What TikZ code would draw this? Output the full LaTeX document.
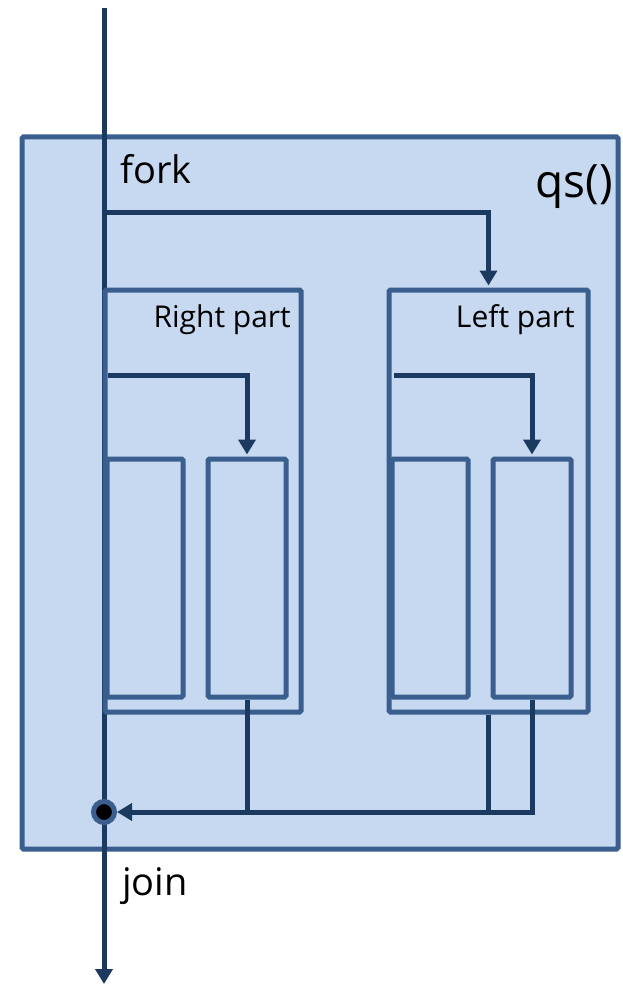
\documentclass[tikz,border=0pt]{standalone}
\usepackage{fontspec}
\setmainfont{Open Sans}
\usetikzlibrary{arrows.meta}
\definecolor{boxfill}{HTML}{C6D9F0}
\definecolor{boxline}{HTML}{3A5F8F}
\definecolor{flow}{HTML}{1C3960}
\begin{document}
\begin{tikzpicture}[x=1pt,y=-1pt,
  container/.style={draw=boxline,fill=boxfill,line width=5pt,rounded corners=1.5pt,inner sep=0pt,anchor=center},
  flowline/.style={draw=flow,line width=5pt},
  tip/.style={-{Triangle[width=17pt,length=15pt]}},
  lbl/.style={inner sep=0pt,text=black}]
\useasboundingbox (0,0) rectangle (623,984);
% outer function box
\node[container,minimum width=596pt,minimum height=712pt] (outer) at (320,493) {};
% main thread line
\coordinate (top) at (104,8);
\coordinate (bottom) at (104,984);
\coordinate (joinpt) at (104,812);
\coordinate (forkpt) at (104,213);
\draw[flowline] (top) -- (joinpt);
\draw[flowline,tip] (joinpt) -- (bottom);
% part boxes
\node[container,minimum width=196pt,minimum height=422pt] (right) at (203,501) {};
\node[container,minimum width=199pt,minimum height=422pt] (left) at (488.5,501) {};
% inner boxes
\node[container,minimum width=76pt,minimum height=238pt] (b1) at (145,578) {};
\node[container,minimum width=78pt,minimum height=238pt] (b2) at (247,578) {};
\node[container,minimum width=76pt,minimum height=238pt] (b3) at (430,578) {};
\node[container,minimum width=78pt,minimum height=238pt] (b4) at (532,578) {};
% join marker
\node[circle,draw=boxline,fill=black,line width=5pt,minimum size=21pt,inner sep=0pt] (join) at (joinpt) {};
% fork connector
\draw[flowline,tip,shorten >=2pt] (forkpt) -| (left.north);
% inner forks
\coordinate (rf) at (108,375);
\coordinate (lf) at (394,375);
\draw[flowline,tip,shorten >=2pt] (rf) -| (b2.north);
\draw[flowline,tip,shorten >=2pt] (lf) -| (b4.north);
% joins
\draw[flowline] (b2.south) -- (b2.south |- join);
\draw[flowline] (left.south) -- (left.south |- join);
\draw[flowline,tip] (b4.south) |- (join.east);
% labels
\node[lbl,anchor=base west,font=\fontsize{38}{40}\selectfont] (forkl) at (120,184) {fork};
\node[lbl,anchor=base east,font=\fontsize{46}{48}\selectfont] (qs) at (613,198) {qs()};
\node[lbl,anchor=base east,font=\fontsize{30}{32}\selectfont] (rpl) at (291,327) {Right part};
\node[lbl,anchor=base east,font=\fontsize{30}{32}\selectfont] (lpl) at (575,327) {Left part};
\node[lbl,anchor=base west,font=\fontsize{38}{40}\selectfont] (joinl) at (122,895) {join};
\end{tikzpicture}
\end{document}
